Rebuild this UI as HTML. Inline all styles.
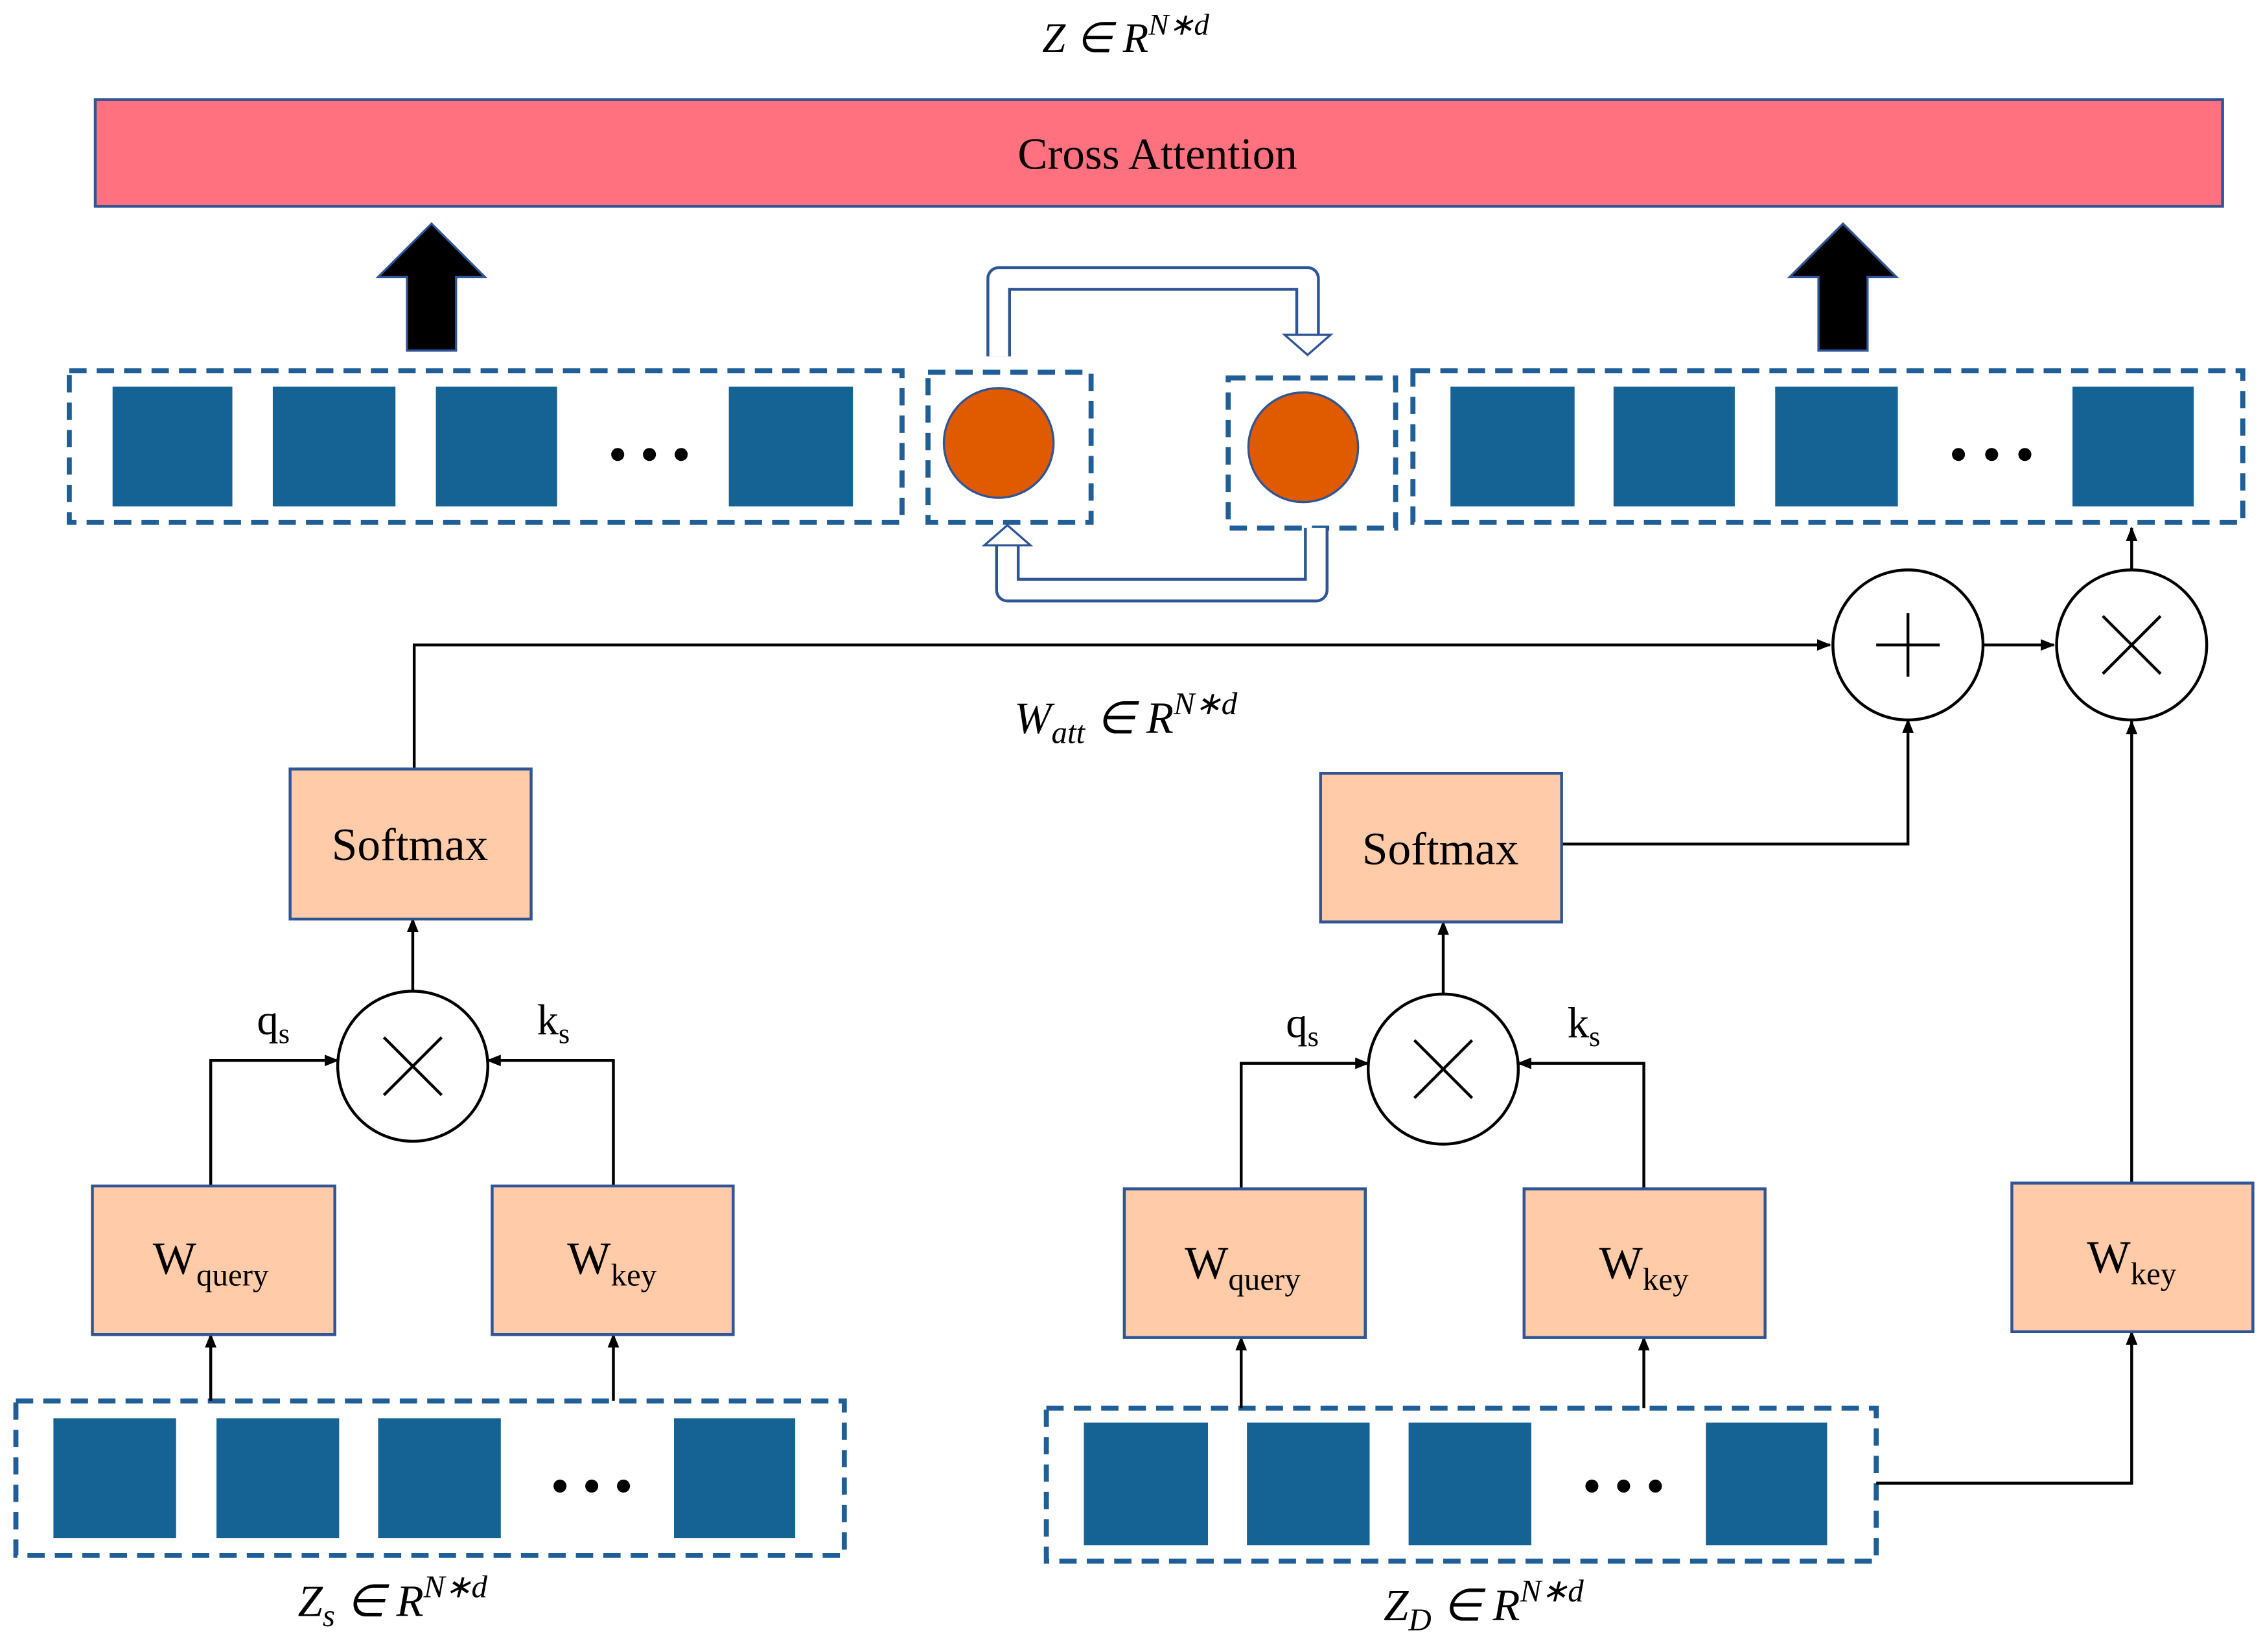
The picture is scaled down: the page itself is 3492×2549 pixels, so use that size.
<!DOCTYPE html>
<html><head><meta charset="utf-8"><style>
html,body{margin:0;padding:0;background:#fff}
svg{display:block}
text{font-family:"Liberation Serif",serif;fill:#000}
</style></head><body>
<svg width="3492" height="2549" viewBox="0 0 1568 1145" preserveAspectRatio="none" xmlns="http://www.w3.org/2000/svg">
<defs>
<marker id="a" markerWidth="10" markerHeight="10" refX="9" refY="5" orient="auto" markerUnits="userSpaceOnUse"><path d="M0,1 L10,5 L0,9 Z" fill="#000"/></marker>
</defs>
<text x="780" y="36" font-size="29" font-style="italic" text-anchor="middle">Z ∈ R<tspan dy="-12" font-size="21">N∗d</tspan></text>
<rect x="66" y="69" width="1474" height="74" fill="#FF717F" stroke="#2F5597" stroke-width="2"/>
<text x="802" y="117" font-size="31" text-anchor="middle">Cross Attention</text>
<path d="M282,243 V192 H262 L299,155 L336,192 H316 V243 Z" fill="#000" stroke="#2F5597" stroke-width="1.5"/>
<path d="M1260,243 V192 H1240 L1277,155 L1314,192 H1294 V243 Z" fill="#000" stroke="#2F5597" stroke-width="1.5"/>
<g fill="none" stroke="#1F5E96" stroke-width="3.5" stroke-dasharray="12,7">
<rect x="48" y="257" width="577" height="105"/>
<rect x="643" y="258" width="113" height="104"/>
<rect x="851" y="262" width="116" height="104"/>
<rect x="979" y="257" width="575" height="105"/>
<rect x="11" y="971" width="574" height="107"/>
<rect x="725" y="976" width="575" height="106"/>
</g>
<g fill="#156295">
<rect x="78" y="268" width="83" height="83"/><rect x="189" y="268" width="85" height="83"/><rect x="302" y="268" width="84" height="83"/><rect x="505" y="268" width="86" height="83"/>
<rect x="1005" y="268" width="86" height="83"/><rect x="1118" y="268" width="84" height="83"/><rect x="1230" y="268" width="85" height="83"/><rect x="1436" y="268" width="84" height="83"/>
<rect x="37" y="983" width="85" height="83"/><rect x="150" y="983" width="85" height="83"/><rect x="262" y="983" width="85" height="83"/><rect x="467" y="983" width="84" height="83"/>
<rect x="751" y="986" width="86" height="85"/><rect x="864" y="986" width="85" height="85"/><rect x="976" y="986" width="85" height="85"/><rect x="1182" y="986" width="84" height="85"/>
</g>
<g fill="#000">
<circle cx="428" cy="315" r="4.5"/><circle cx="450" cy="315" r="4.5"/><circle cx="472" cy="315" r="4.5"/>
<circle cx="1357" cy="315" r="4.5"/><circle cx="1380" cy="315" r="4.5"/><circle cx="1403" cy="315" r="4.5"/>
<circle cx="388" cy="1030" r="4.5"/><circle cx="410" cy="1030" r="4.5"/><circle cx="432" cy="1030" r="4.5"/>
<circle cx="1103" cy="1030" r="4.5"/><circle cx="1125" cy="1030" r="4.5"/><circle cx="1147" cy="1030" r="4.5"/>
</g>
<circle cx="692" cy="307" r="38" fill="#E05A00" stroke="#2F5597" stroke-width="1.5"/>
<circle cx="903" cy="310" r="38" fill="#E05A00" stroke="#2F5597" stroke-width="1.5"/>
<path d="M692,247 V193 H906 V232" fill="none" stroke="#2F5597" stroke-width="17" stroke-linejoin="round"/>
<path d="M692,247 V193 H906 V232" fill="none" stroke="#fff" stroke-width="13" stroke-linejoin="round"/>
<path d="M890,232 H922 L906,246 Z" fill="#fff" stroke="#2F5597" stroke-width="1.5"/>
<path d="M912,366 V409 H698 V378" fill="none" stroke="#2F5597" stroke-width="17" stroke-linejoin="round"/>
<path d="M912,366 V409 H698 V378" fill="none" stroke="#fff" stroke-width="13" stroke-linejoin="round"/>
<path d="M682,378 H714 L698,364 Z" fill="#fff" stroke="#2F5597" stroke-width="1.5"/>
<g fill="none" stroke="#000" stroke-width="2">
<circle cx="1322" cy="447" r="52"/><path d="M1322,425 V469 M1300,447 H1344"/>
<circle cx="1477" cy="447" r="52"/><path d="M1457,427 L1497,467 M1497,427 L1457,467"/>
<circle cx="286" cy="739" r="52"/><path d="M266,719 L306,759 M306,719 L266,759"/>
<circle cx="1000" cy="741" r="52"/><path d="M980,721 L1020,761 M1020,721 L980,761"/>
<path d="M287,533 V447 H1268" marker-end="url(#a)"/>
<path d="M1374,447 H1423" marker-end="url(#a)"/>
<path d="M1477,395 V366" marker-end="url(#a)"/>
<path d="M1477,820 V500" marker-end="url(#a)"/>
<path d="M1082,585 H1322 V499" marker-end="url(#a)"/>
<path d="M286,687 V637" marker-end="url(#a)"/>
<path d="M1000,689 V639" marker-end="url(#a)"/>
<path d="M146,822 V735 H234" marker-end="url(#a)"/>
<path d="M425,822 V735 H338" marker-end="url(#a)"/>
<path d="M860,824 V737 H948" marker-end="url(#a)"/>
<path d="M1139,824 V737 H1052" marker-end="url(#a)"/>
<path d="M146,971 V925" marker-end="url(#a)"/>
<path d="M425,971 V925" marker-end="url(#a)"/>
<path d="M860,976 V927" marker-end="url(#a)"/>
<path d="M1139,976 V927" marker-end="url(#a)"/>
<path d="M1300,1028 H1477 V923" marker-end="url(#a)"/>
</g>
<g fill="#FFCBA8" stroke="#2F5597" stroke-width="2">
<rect x="201" y="533" width="167" height="104"/>
<rect x="915" y="536" width="167" height="103"/>
<rect x="64" y="822" width="168" height="103"/>
<rect x="341" y="822" width="167" height="103"/>
<rect x="779" y="824" width="167" height="103"/>
<rect x="1056" y="824" width="167" height="103"/>
<rect x="1394" y="820" width="167" height="103"/>
</g>
<g font-size="32" text-anchor="middle">
<text x="284" y="596">Softmax</text>
<text x="998" y="599">Softmax</text>
<text x="146" y="883">W<tspan font-size="22" dy="8">query</tspan></text>
<text x="424" y="883">W<tspan font-size="22" dy="8">key</tspan></text>
<text x="861" y="886">W<tspan font-size="22" dy="8">query</tspan></text>
<text x="1139" y="886">W<tspan font-size="22" dy="8">key</tspan></text>
<text x="1477" y="882">W<tspan font-size="22" dy="8">key</tspan></text>
</g>
<g font-size="30">
<text x="178" y="717">q<tspan font-size="20" dy="6">s</tspan></text>
<text x="372" y="717">k<tspan font-size="20" dy="6">s</tspan></text>
<text x="891" y="719">q<tspan font-size="20" dy="6">s</tspan></text>
<text x="1086" y="719">k<tspan font-size="20" dy="6">s</tspan></text>
</g>
<g font-size="31" font-style="italic" text-anchor="middle">
<text x="780" y="508">W<tspan font-size="22" dy="7">att</tspan><tspan dy="-7"> ∈ R</tspan><tspan dy="-13" font-size="22">N∗d</tspan></text>
<text x="272" y="1120">Z<tspan font-size="22" dy="7">s</tspan><tspan dy="-7"> ∈ R</tspan><tspan dy="-13" font-size="22">N∗d</tspan></text>
<text x="1028" y="1123">Z<tspan font-size="22" dy="7">D</tspan><tspan dy="-7"> ∈ R</tspan><tspan dy="-13" font-size="22">N∗d</tspan></text>
</g>
</svg>
</body></html>
